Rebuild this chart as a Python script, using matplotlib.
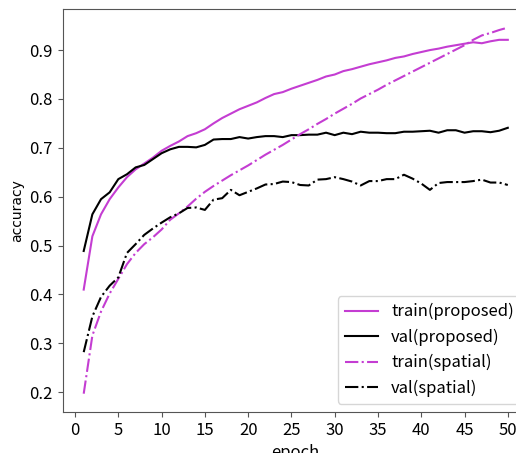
import matplotlib
matplotlib.use('Agg')
import matplotlib.pyplot as plt

plt.rcParams['font.family'] = ['Noto Sans CJK JP', 'DejaVu Sans']

epochs = list(range(1, 51))

train_proposed = [0.410, 0.519, 0.564, 0.595, 0.619, 0.640, 0.656, 0.668, 0.680, 0.694,
                  0.704, 0.713, 0.724, 0.730, 0.738, 0.750, 0.761, 0.770, 0.779, 0.786,
                  0.793, 0.802, 0.810, 0.814, 0.821, 0.827, 0.833, 0.839, 0.846, 0.850,
                  0.857, 0.861, 0.866, 0.871, 0.875, 0.879, 0.884, 0.887, 0.892, 0.896,
                  0.900, 0.903, 0.907, 0.910, 0.913, 0.916, 0.914, 0.918, 0.921, 0.921]

val_proposed = [0.489, 0.564, 0.595, 0.609, 0.636, 0.646, 0.660, 0.665, 0.677, 0.689,
                0.697, 0.702, 0.702, 0.701, 0.706, 0.717, 0.718, 0.718, 0.722, 0.719,
                0.722, 0.724, 0.724, 0.722, 0.726, 0.726, 0.727, 0.727, 0.731, 0.726,
                0.731, 0.728, 0.733, 0.731, 0.731, 0.730, 0.730, 0.733, 0.733, 0.734,
                0.735, 0.731, 0.736, 0.736, 0.731, 0.734, 0.734, 0.732, 0.735, 0.741]

train_spatial = [0.197, 0.316, 0.365, 0.402, 0.432, 0.462, 0.485, 0.503, 0.517, 0.533,
                 0.553, 0.566, 0.580, 0.596, 0.610, 0.622, 0.633, 0.644, 0.654, 0.664,
                 0.675, 0.686, 0.696, 0.706, 0.717, 0.728, 0.738, 0.749, 0.759, 0.770,
                 0.780, 0.790, 0.801, 0.810, 0.819, 0.829, 0.838, 0.847, 0.856, 0.865,
                 0.874, 0.883, 0.892, 0.901, 0.910, 0.921, 0.930, 0.935, 0.941, 0.946]

val_spatial = [0.282, 0.355, 0.395, 0.418, 0.435, 0.485, 0.503, 0.522, 0.535, 0.547,
               0.558, 0.566, 0.577, 0.578, 0.573, 0.594, 0.597, 0.614, 0.603, 0.610,
               0.617, 0.625, 0.626, 0.631, 0.630, 0.624, 0.623, 0.635, 0.636, 0.640,
               0.636, 0.631, 0.623, 0.632, 0.632, 0.636, 0.636, 0.645, 0.637, 0.627,
               0.614, 0.628, 0.630, 0.630, 0.630, 0.632, 0.635, 0.629, 0.629, 0.624]

magenta = '#c43dd2'
frame = '#555555'

fig = plt.figure(figsize=(5.16, 4.53), dpi=100)
# axes run past the right edge, as in the cropped original
ax = fig.add_axes([62.5 / 516, 41 / 453, 466.5 / 516, 402.7 / 453])

ax.plot(epochs, train_proposed, color=magenta, linestyle='-', label='train(proposed)')
ax.plot(epochs, val_proposed, color='black', linestyle='-', label='val(proposed)')
ax.plot(epochs, train_spatial, color=magenta, linestyle='-.', label='train(spatial)')
ax.plot(epochs, val_spatial, color='black', linestyle='-.', label='val(spatial)')

for spine in ax.spines.values():
    spine.set_color(frame)
ax.set_xticks(range(0, 51, 5))
ax.tick_params(labelsize=12, color=frame)
ax.set_xlabel('epoch', fontsize=12)
ax.set_ylabel('accuracy', fontsize=10, family='DejaVu Sans')
ax.legend(loc='lower right', fontsize=12)

fig.savefig('out.png', dpi=100)
